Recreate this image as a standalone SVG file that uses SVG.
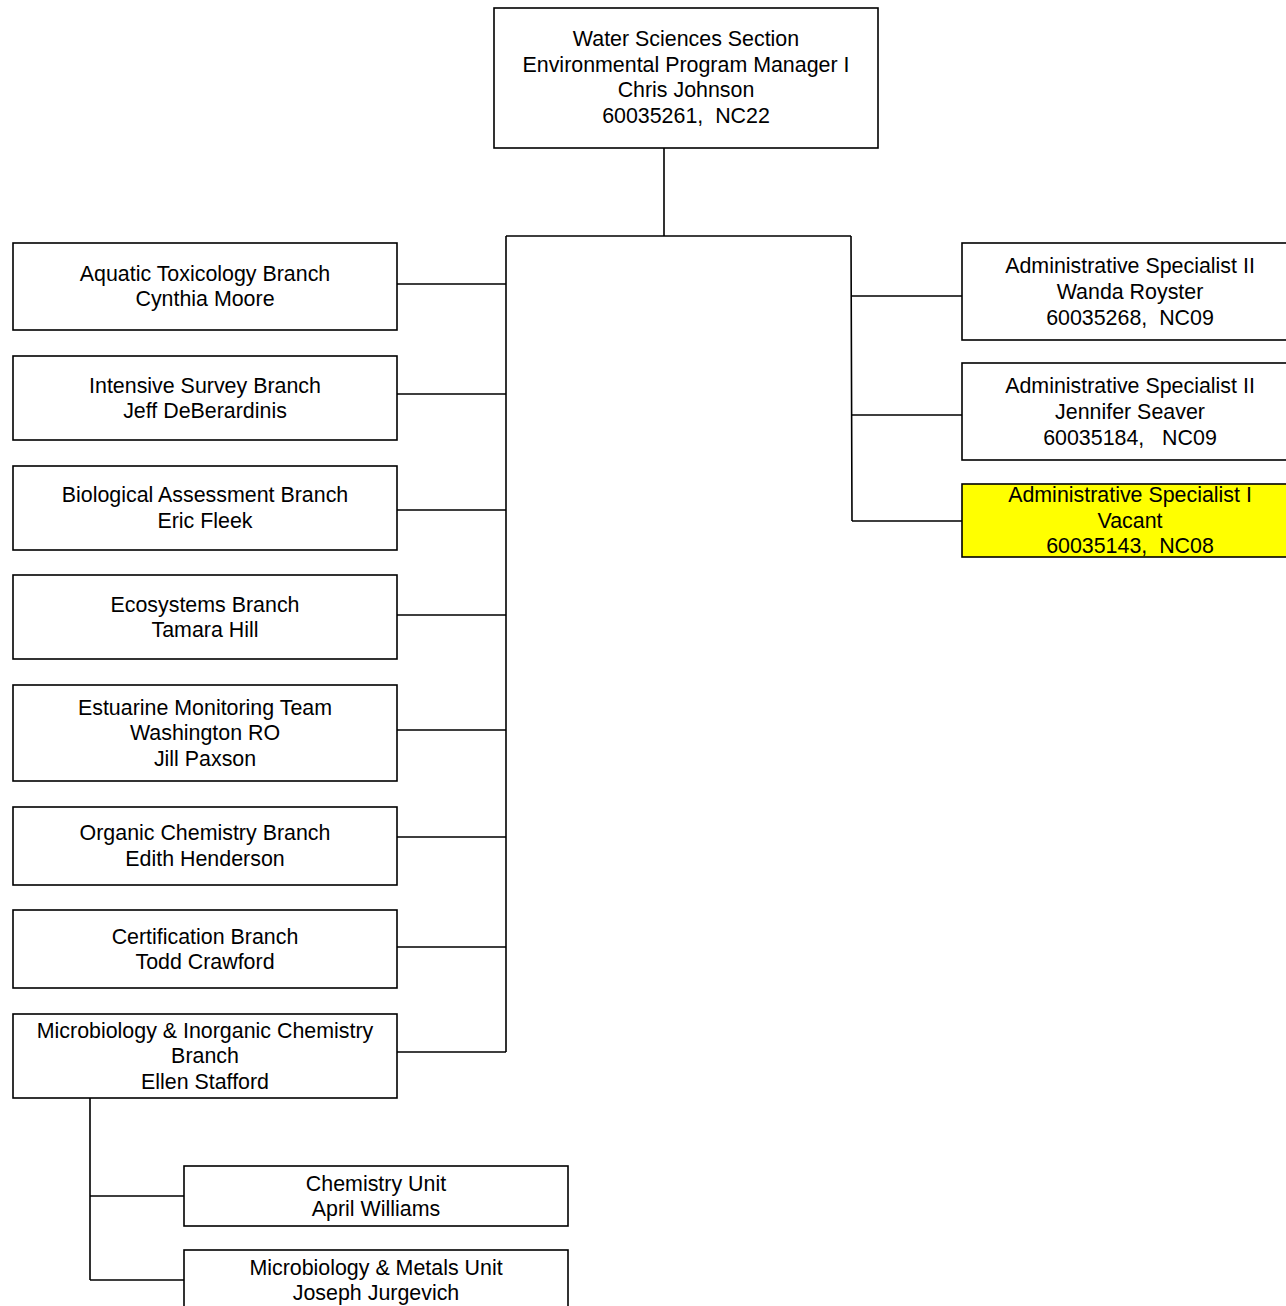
<svg xmlns="http://www.w3.org/2000/svg" width="1286" height="1306" viewBox="0 0 1286 1306">
<style>
.box{fill:#fff;stroke:#000;stroke-width:1.6}
.hl{fill:#ffff00;stroke:#000;stroke-width:1.6}
.t{font-family:"Liberation Sans",Arial,sans-serif;font-size:21.4px;fill:#000;text-anchor:middle}
.c{fill:none;stroke:#000;stroke-width:1.6}
</style>
<rect width="1286" height="1306" fill="#fff"/>
<g id="connectors">
<path class="c" d="M664 148V236M506 236H851M506 236V1052M851 236L852 521"/>
<path class="c" d="M397 284H506M397 394H506M397 510H506M397 615H506M397 730H506M397 837H506M397 947H506M397 1052H506"/>
<path class="c" d="M851 296H962M851 415H962M852 521H962"/>
<path class="c" d="M90 1098V1280M90 1196H184M90 1280H184"/>
</g>
<g id="n-top"><rect class="box" x="494" y="8" width="384" height="140"/>
<text class="t" x="686" y="45.5">Water Sciences Section</text>
<text class="t" x="686" y="71.5">Environmental Program Manager I</text>
<text class="t" x="686" y="96.5">Chris Johnson</text>
<text class="t" x="686" y="122.5" xml:space="preserve">60035261,  NC22</text></g>
<g id="n-aquatic"><rect class="box" x="13" y="243" width="384" height="87"/>
<text class="t" x="205" y="280.5">Aquatic Toxicology Branch</text>
<text class="t" x="205" y="305.5">Cynthia Moore</text></g>
<g id="n-intensive"><rect class="box" x="13" y="356" width="384" height="84"/>
<text class="t" x="205" y="392.5">Intensive Survey Branch</text>
<text class="t" x="205" y="417.5">Jeff DeBerardinis</text></g>
<g id="n-bio"><rect class="box" x="13" y="466" width="384" height="84"/>
<text class="t" x="205" y="501.5">Biological Assessment Branch</text>
<text class="t" x="205" y="527.5">Eric Fleek</text></g>
<g id="n-eco"><rect class="box" x="13" y="575" width="384" height="84"/>
<text class="t" x="205" y="611.5">Ecosystems Branch</text>
<text class="t" x="205" y="636.5">Tamara Hill</text></g>
<g id="n-estuarine"><rect class="box" x="13" y="685" width="384" height="96"/>
<text class="t" x="205" y="714.5">Estuarine Monitoring Team</text>
<text class="t" x="205" y="739.5">Washington RO</text>
<text class="t" x="205" y="765.5">Jill Paxson</text></g>
<g id="n-organic"><rect class="box" x="13" y="807" width="384" height="78"/>
<text class="t" x="205" y="839.5">Organic Chemistry Branch</text>
<text class="t" x="205" y="865.5">Edith Henderson</text></g>
<g id="n-cert"><rect class="box" x="13" y="910" width="384" height="78"/>
<text class="t" x="205" y="943.5">Certification Branch</text>
<text class="t" x="205" y="968.5">Todd Crawford</text></g>
<g id="n-micro"><rect class="box" x="13" y="1014" width="384" height="84"/>
<text class="t" x="205" y="1037.5">Microbiology &amp; Inorganic Chemistry</text>
<text class="t" x="205" y="1062.5">Branch</text>
<text class="t" x="205" y="1088.5">Ellen Stafford</text></g>
<g id="n-chem"><rect class="box" x="184" y="1166" width="384" height="60"/>
<text class="t" x="376" y="1190.5">Chemistry Unit</text>
<text class="t" x="376" y="1215.5">April Williams</text></g>
<g id="n-metals"><rect class="box" x="184" y="1250" width="384" height="62"/>
<text class="t" x="376" y="1274.5">Microbiology &amp; Metals Unit</text>
<text class="t" x="376" y="1299.5">Joseph Jurgevich</text></g>
<g id="n-wanda"><rect class="box" x="962" y="243" width="330" height="97"/>
<text class="t" x="1130" y="272.5">Administrative Specialist II</text>
<text class="t" x="1130" y="298.5">Wanda Royster</text>
<text class="t" x="1130" y="324.5" xml:space="preserve">60035268,  NC09</text></g>
<g id="n-jennifer"><rect class="box" x="962" y="363" width="330" height="97"/>
<text class="t" x="1130" y="392.5">Administrative Specialist II</text>
<text class="t" x="1130" y="418.5">Jennifer Seaver</text>
<text class="t" x="1130" y="444.5" xml:space="preserve">60035184,   NC09</text></g>
<g id="n-vacant"><rect class="hl" x="962" y="484" width="330" height="73"/>
<text class="t" x="1130" y="501.5">Administrative Specialist I</text>
<text class="t" x="1130" y="527.5">Vacant</text>
<text class="t" x="1130" y="552.5" xml:space="preserve">60035143,  NC08</text></g>
</svg>
